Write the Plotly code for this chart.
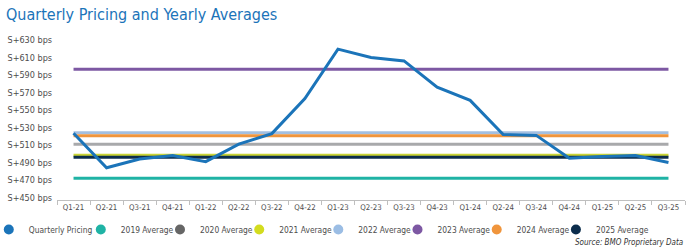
import plotly.graph_objects as go

quarters = ["Q1-21", "Q2-21", "Q3-21", "Q4-21", "Q1-22", "Q2-22", "Q3-22", "Q4-22",
            "Q1-23", "Q2-23", "Q3-23", "Q4-23", "Q1-24", "Q2-24", "Q3-24", "Q4-24",
            "Q1-25", "Q2-25", "Q3-25"]
quarterly_pricing = [523.5, 484, 494, 498, 491, 511, 523, 563,
                     619.5, 610, 606, 576, 561, 522, 521, 495,
                     497, 498, 490]
avg_names = ["2019 Average", "2020 Average", "2021 Average", "2022 Average",
             "2023 Average", "2024 Average", "2025 Average"]
avg_values = [472, 510.8, 498.2, 524, 596.5, 520.6, 496]
avg_line_colors = ["#1fb3a5", "#a8a9ab", "#c9d436", "#a3bfe0", "#7d58a3", "#f0953c", "#0c2d4c"]
avg_legend_colors = ["#1fb3a5", "#666666", "#d3dc1f", "#9bbde4", "#7d58a3", "#f0953c", "#0c2d4c"]
y_ticks = [450, 470, 490, 510, 530, 550, 570, 590, 610, 630]
y_tick_labels = ["S+%d bps" % v for v in y_ticks]

BLUE = "#1b74b9"
FONT = "DejaVu Sans Condensed, Liberation Sans Narrow, Roboto, sans-serif"

W, H = 693, 251
ML, MR, MT, MB = 57, 8, 31, 50.5
plot_h = H - MT - MB

fig = go.Figure()

# average lines (no legend; legend markers added separately)
for name, val, col in zip(avg_names, avg_values, avg_line_colors):
    fig.add_trace(go.Scatter(x=quarters, y=[val] * len(quarters), mode="lines",
                             line=dict(color=col, width=3), name=name,
                             showlegend=False, hoverinfo="skip"))

fig.add_trace(go.Scatter(x=quarters, y=quarterly_pricing, mode="lines",
                         line=dict(color=BLUE, width=3), name="Quarterly Pricing",
                         showlegend=False))

# legend entries, each in its own legend positioned like the reference
legend_names = ["Quarterly Pricing"] + avg_names
legend_colors = [BLUE] + avg_legend_colors
legend_marker_x = [14.3, 106.3, 185.5, 264.7, 343.8, 423, 502.2, 581.4]
legend_y_px = 230
layout_legends = {}
for i, (name, col, mx) in enumerate(zip(legend_names, legend_colors, legend_marker_x)):
    key = "legend" if i == 0 else "legend%d" % (i + 1)
    fig.add_trace(go.Scatter(x=[None], y=[None], mode="markers",
                             marker=dict(color=col, size=10), name=name,
                             legend=key, showlegend=True))
    lx = (mx - 5 - 20.5 - ML) / (W - ML - MR)
    ly = (H - MB - legend_y_px) / plot_h
    layout_legends[key] = dict(x=lx, y=ly, xanchor="left", yanchor="middle",
                               orientation="h", bgcolor="rgba(0,0,0,0)",
                               borderwidth=0,
                               font=dict(family=FONT, size=8.4, color="#4d4d4d"))

fig.update_layout(
    width=W, height=H,
    margin=dict(l=ML, r=MR, t=MT, b=MB, pad=0, autoexpand=False),
    paper_bgcolor="white", plot_bgcolor="white",
    title=dict(text="Quarterly Pricing and Yearly Averages",
               x=6 / W, xanchor="left", y=1 - 14 / H, yanchor="middle",
               font=dict(family=FONT, size=16, color=BLUE)),
    xaxis=dict(type="category", range=[-0.5, len(quarters) - 0.5],
               showline=True, linecolor="#bfbfbf", linewidth=1,
               ticks="outside", tickson="boundaries", ticklen=4, tickcolor="#bfbfbf",
               showgrid=False, zeroline=False, tickangle=0,
               tickfont=dict(family=FONT, size=7.8, color="#4d4d4d")),
    yaxis=dict(range=[447.2, 640.2], tickvals=y_ticks, ticktext=y_tick_labels,
               showgrid=False, zeroline=False, showline=False,
               ticklabelstandoff=4,
               tickfont=dict(family=FONT, size=9, color="#4d4d4d")),
    showlegend=True,
    annotations=[dict(text="<i>Source: BMO Proprietary Data</i>", xref="paper", yref="paper",
                      x=(685 - ML) / (W - ML - MR), xanchor="right",
                      y=(H - MB - 243.5) / plot_h, yanchor="middle", showarrow=False,
                      font=dict(family=FONT, size=8, color="#333333"))],
    **layout_legends,
)

fig.write_html("out.html")
